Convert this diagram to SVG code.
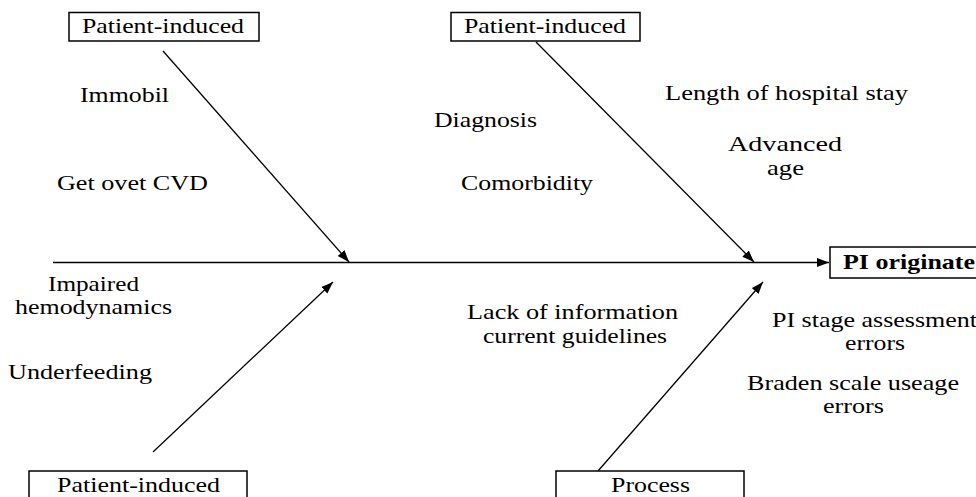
<svg xmlns="http://www.w3.org/2000/svg" width="976" height="497" viewBox="0 0 976 497" font-family="'Liberation Serif', 'Times New Roman', serif">
<style>
text{font-family:'Liberation Serif','Times New Roman',serif;font-size:21px;fill:#000}
.b{font-weight:bold}
.box{fill:#fff;stroke:#000;stroke-width:1.5}
.ln{stroke:#000;stroke-width:1.3;fill:none;marker-end:url(#ah)}
</style>
<defs>
<marker id="ah" markerUnits="userSpaceOnUse" markerWidth="13" markerHeight="10" refX="12" refY="4.5" orient="auto">
<path d="M0,0 L12,4.5 L0,9 z" fill="#000"/>
</marker>
</defs>
<rect width="976" height="497" fill="#fff"/>
<g id="connectors">
<line class="ln" x1="53" y1="262.5" x2="829" y2="262.5"/>
<line class="ln" x1="163" y1="51" x2="349" y2="262"/>
<line class="ln" x1="536" y1="42" x2="754" y2="262"/>
<line class="ln" x1="153" y1="452" x2="333" y2="282"/>
<line class="ln" x1="598" y1="471" x2="763" y2="282"/>
</g>
<g id="head-top-left">
<rect class="box" x="69" y="12.5" width="190" height="28.5"/>
<text x="82" y="33" textLength="162" lengthAdjust="spacingAndGlyphs">Patient-induced</text>
</g>
<g id="head-top-right">
<rect class="box" x="451" y="12.5" width="189" height="28.5"/>
<text x="464" y="33" textLength="162" lengthAdjust="spacingAndGlyphs">Patient-induced</text>
</g>
<g id="head-bottom-left">
<rect class="box" x="29" y="471" width="218" height="40"/>
<text x="57" y="492" textLength="163" lengthAdjust="spacingAndGlyphs">Patient-induced</text>
</g>
<g id="head-bottom-right">
<rect class="box" x="556" y="471" width="188" height="40"/>
<text x="611" y="492" textLength="79" lengthAdjust="spacingAndGlyphs">Process</text>
</g>
<g id="effect">
<rect class="box" x="830" y="247" width="160" height="31"/>
<text class="b" x="843" y="269" textLength="132" lengthAdjust="spacingAndGlyphs">PI originate</text>
</g>
<g id="cause-immobil"><text x="80" y="102" textLength="89" lengthAdjust="spacingAndGlyphs">Immobil</text></g>
<g id="cause-cvd"><text x="57" y="190" textLength="151" lengthAdjust="spacingAndGlyphs">Get ovet CVD</text></g>
<g id="cause-diagnosis"><text x="434" y="127" textLength="103" lengthAdjust="spacingAndGlyphs">Diagnosis</text></g>
<g id="cause-comorbidity"><text x="461" y="190" textLength="132" lengthAdjust="spacingAndGlyphs">Comorbidity</text></g>
<g id="cause-length"><text x="665" y="100" textLength="243" lengthAdjust="spacingAndGlyphs">Length of hospital stay</text></g>
<g id="cause-age">
<text x="728" y="151" textLength="114" lengthAdjust="spacingAndGlyphs">Advanced</text>
<text x="767" y="175" textLength="37" lengthAdjust="spacingAndGlyphs">age</text>
</g>
<g id="cause-hemo">
<text x="48" y="291" textLength="91" lengthAdjust="spacingAndGlyphs">Impaired</text>
<text x="15" y="314" textLength="157" lengthAdjust="spacingAndGlyphs">hemodynamics</text>
</g>
<g id="cause-underfeeding"><text x="8" y="379" textLength="144" lengthAdjust="spacingAndGlyphs">Underfeeding</text></g>
<g id="cause-info">
<text x="467" y="319" textLength="211" lengthAdjust="spacingAndGlyphs">Lack of information</text>
<text x="483" y="343" textLength="184" lengthAdjust="spacingAndGlyphs">current guidelines</text>
</g>
<g id="cause-stage">
<text x="772" y="327" textLength="205" lengthAdjust="spacingAndGlyphs">PI stage assessment</text>
<text x="845" y="350" textLength="60" lengthAdjust="spacingAndGlyphs">errors</text>
</g>
<g id="cause-braden">
<text x="747" y="390" textLength="212" lengthAdjust="spacingAndGlyphs">Braden scale useage</text>
<text x="823" y="413" textLength="61" lengthAdjust="spacingAndGlyphs">errors</text>
</g>
</svg>
